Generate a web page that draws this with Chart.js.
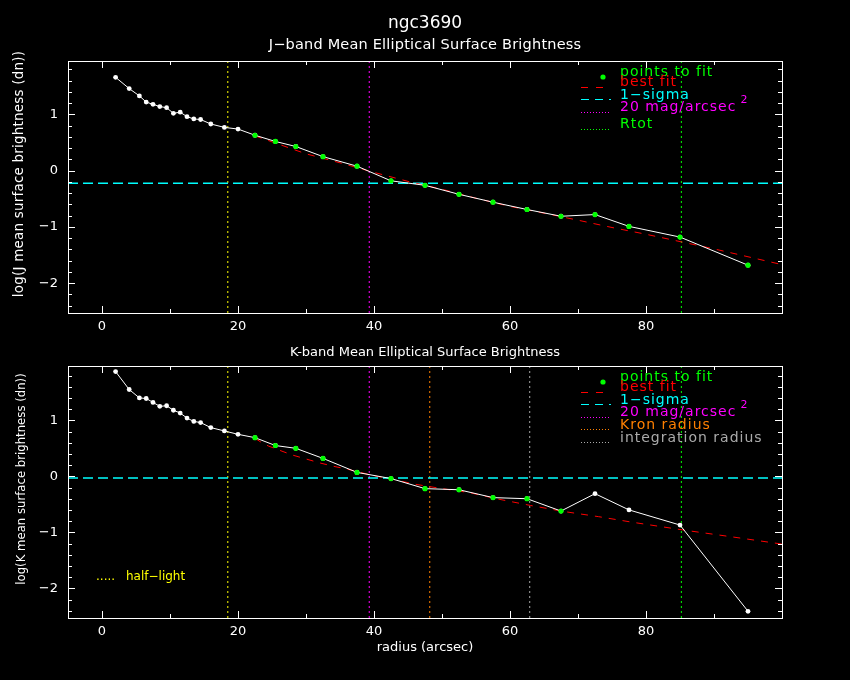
<!DOCTYPE html>
<html>
<head>
<meta charset="utf-8">
<script src="https://cdn.jsdelivr.net/npm/chart.js@4"></script>
<style>
  body { margin: 0; background: #000; }
  canvas { position: absolute; left: 0; display: block; }
</style>
</head>
<body>
<canvas id="jband" width="850" height="340" style="top:0"></canvas>
<canvas id="kband" width="850" height="340" style="top:340px"></canvas>
<script>
// radial profile, shared by both bands
const radius = [2, 4, 5.5, 6.5, 7.5, 8.5, 9.5, 10.5, 11.5, 12.5, 13.5, 14.5, 16, 18, 20,
  22.5, 25.5, 28.5, 32.5, 37.5, 42.5, 47.5, 52.5, 57.5, 62.5, 67.5, 72.5, 77.5, 85, 95];
const jBrightness = [1.66, 1.46, 1.33, 1.22, 1.18, 1.14, 1.12, 1.02, 1.04, 0.96, 0.92, 0.91, 0.83, 0.77, 0.74,
  0.63, 0.52, 0.43, 0.25, 0.08, -0.18, -0.26, -0.42, -0.56, -0.69, -0.81, -0.78, -0.99, -1.18, -1.68];
const kBrightness = [1.87, 1.55, 1.40, 1.39, 1.32, 1.25, 1.26, 1.18, 1.13, 1.04, 0.98, 0.96, 0.87, 0.81, 0.75,
  0.69, 0.55, 0.50, 0.32, 0.07, -0.04, -0.22, -0.24, -0.38, -0.40, -0.62, -0.31, -0.60, -0.87, -2.41];
// index range of the points used in the fit
const jFitRange = [15, 29];
const kFitRange = [15, 25];

// best fit curves
const jFitRadius = [22.5, 26, 30, 35, 40, 45, 50, 55, 60, 65, 70, 75, 80, 85, 90, 95, 100];
const jFitValue = [0.62, 0.47, 0.30, 0.14, -0.03, -0.19, -0.33, -0.49, -0.635, -0.755, -0.88, -1.01, -1.13, -1.26, -1.39, -1.53, -1.67];
const kFitRadius = [22.5, 23.5, 24.5, 26, 28, 30, 32, 34, 36, 38, 40, 43, 46, 50, 54, 58, 63, 68, 73, 78, 85, 92, 100];
const kFitValue = [0.68, 0.60, 0.54, 0.47, 0.38, 0.31, 0.24, 0.18, 0.13, 0.07, 0.01, -0.06, -0.14, -0.22, -0.29, -0.40, -0.52, -0.63, -0.72, -0.82, -0.95, -1.07, -1.21];

// reference levels and radii
const jSigma = -0.225;
const kSigma = -0.03;
const halfLight = 18.5;
const iso20 = 39.3;
const kronRadius = 48.2;
const integRadius = 62.9;
const rTot = 85.2;

const xTicks = [0, 20, 40, 60, 80];
const yTicks = [-2, -1, 0, 1];

const FONT = "'DejaVu Sans', sans-serif";
const XMIN = -5, XMAX = 100;

function pts(xs, ys) {
  return xs.map((x, i) => ({ x: x, y: ys[i] }));
}

function vline(x, color, ymin, ymax) {
  return {
    data: [{ x: x, y: ymin }, { x: x, y: ymax }],
    borderColor: color, borderWidth: 1, borderDash: [2, 3],
    pointRadius: 0, order: 6
  };
}

function hline(y, color) {
  return {
    data: [{ x: XMIN, y: y }, { x: XMAX, y: y }],
    borderColor: color, borderWidth: 1.5, borderDash: [10, 5],
    pointRadius: 0, order: 5
  };
}

// box with inward ticks on four sides
const frame = {
  id: 'frame',
  afterDatasetsDraw(chart) {
    const { ctx, chartArea: a, scales: { x, y } } = chart;
    ctx.save();
    ctx.strokeStyle = '#fff';
    ctx.lineWidth = 1;
    ctx.strokeRect(Math.round(a.left) + 0.5, Math.round(a.top) + 0.5, Math.round(a.width), Math.round(a.height));
    ctx.beginPath();
    for (let v = 0; v < XMAX; v += 10) {
      const px = Math.round(x.getPixelForValue(v)) + 0.5;
      const len = v % 20 === 0 ? 7 : 4;
      ctx.moveTo(px, a.bottom); ctx.lineTo(px, a.bottom - len);
      ctx.moveTo(px, a.top); ctx.lineTo(px, a.top + len);
    }
    for (let k = Math.ceil(y.min * 5); k <= Math.floor(y.max * 5); k++) {
      const py = Math.round(y.getPixelForValue(k / 5)) + 0.5;
      const len = k % 5 === 0 ? 7 : 4;
      ctx.moveTo(a.left, py); ctx.lineTo(a.left + len, py);
      ctx.moveTo(a.right, py); ctx.lineTo(a.right - len, py);
    }
    ctx.stroke();
    ctx.restore();
  }
};

function text(ctx, s, x, y, size, color, opts) {
  opts = opts || {};
  ctx.save();
  ctx.font = size + 'px ' + FONT;
  ctx.fillStyle = color;
  ctx.textAlign = opts.align || 'center';
  ctx.textBaseline = 'middle';
  if (opts.spacing) ctx.letterSpacing = opts.spacing;
  if (opts.rotate) {
    ctx.translate(x, y);
    ctx.rotate(-Math.PI / 2);
    ctx.fillText(s, 0, 0);
  } else {
    ctx.fillText(s, x, y);
  }
  ctx.restore();
}

function sample(ctx, y, color, dash) {
  ctx.save();
  ctx.strokeStyle = color;
  ctx.lineWidth = 1;
  ctx.setLineDash(dash);
  ctx.beginPath();
  ctx.moveTo(581, y + 0.5);
  ctx.lineTo(611, y + 0.5);
  ctx.stroke();
  ctx.restore();
}

function legendPlugin(items) {
  return {
    id: 'pgLegend',
    afterDraw(chart) {
      const ctx = chart.ctx;
      items.forEach(it => {
        if (it.dot) {
          ctx.save();
          ctx.fillStyle = it.color;
          ctx.beginPath();
          ctx.arc(603, it.dot, 2.6, 0, Math.PI * 2);
          ctx.fill();
          ctx.restore();
        }
        if (it.line !== undefined) sample(ctx, it.line, it.color, it.dash);
        text(ctx, it.label, 620, it.y, 14, it.color, { align: 'left', spacing: '1px' });
        if (it.sup) {
          ctx.save(); ctx.font = '14px ' + FONT; ctx.letterSpacing = '1px';
          const w = ctx.measureText(it.label).width;
          ctx.restore();
          text(ctx, '2', 620 + w + 4, it.y - 7, 11, it.color, { align: 'left' });
        }
      });
    }
  };
}

function labelsPlugin(list) {
  return {
    id: 'pgLabels',
    afterDraw(chart) {
      list.forEach(l => text(chart.ctx, l.s, l.x, l.y, l.size, l.color || '#fff', l));
    }
  };
}

function makePanel(id, cfg) {
  const fitPts = pts(radius, cfg.values).slice(cfg.fitRange[0], cfg.fitRange[1] + 1);
  const datasets = [
    {
      data: fitPts, showLine: false,
      pointRadius: 2.6, pointBackgroundColor: '#00ff00', pointBorderWidth: 0, order: 0
    },
    {
      data: pts(radius, cfg.values), borderColor: '#fff', borderWidth: 1,
      pointRadius: 2.4, pointBackgroundColor: '#fff', pointBorderWidth: 0, order: 1
    },
    {
      data: pts(cfg.fitRadius, cfg.fitValue), borderColor: '#ff0000', borderWidth: 1,
      borderDash: [7, 7], pointRadius: 0, order: 2
    },
    hline(cfg.sigma, '#00ffff')
  ].concat(cfg.vlines.map(v => vline(v[0], v[1], cfg.ymin, cfg.ymax)));

  return new Chart(document.getElementById(id), {
    type: 'line',
    data: { datasets: datasets },
    options: {
      responsive: false,
      animation: false,
      events: [],
      layout: { padding: { left: 38, right: 68, top: cfg.padTop, bottom: cfg.padBottom } },
      plugins: { legend: { display: false }, tooltip: { enabled: false } },
      scales: {
        x: {
          type: 'linear', min: XMIN, max: XMAX,
          grid: { display: false, drawTicks: false },
          border: { display: false },
          ticks: { color: '#fff', font: { family: FONT, size: 13 }, padding: 6, maxRotation: 0 },
          afterBuildTicks: s => { s.ticks = xTicks.map(v => ({ value: v })); },
          afterFit: s => { s.height = 27; }
        },
        y: {
          type: 'linear', min: cfg.ymin, max: cfg.ymax,
          grid: { display: false, drawTicks: false },
          border: { display: false },
          ticks: {
            color: '#fff', font: { family: FONT, size: 13 }, padding: 10,
            callback: v => String(v).replace('-', '\u2212')
          },
          afterBuildTicks: s => { s.ticks = yTicks.map(v => ({ value: v })); },
          afterFit: s => { s.width = 30; }
        }
      }
    },
    plugins: [frame, legendPlugin(cfg.legend), labelsPlugin(cfg.labels)]
  });
}

makePanel('jband', {
  values: jBrightness, fitRange: jFitRange,
  fitRadius: jFitRadius, fitValue: jFitValue,
  sigma: jSigma, ymin: -2.53, ymax: 1.95,
  padTop: 61, padBottom: 0,
  vlines: [[halfLight, '#ffff00'], [iso20, '#ff00ff'], [rTot, '#00ff00']],
  legend: [
    { label: 'points to fit', color: '#00ff00', y: 72, dot: 77 },
    { label: 'best fit', color: '#ff0000', y: 82, line: 87, dash: [7, 8] },
    { label: '1\u2212sigma', color: '#00ffff', y: 95, line: 99, dash: [8, 6] },
    { label: '20 mag/arcsec', color: '#ff00ff', y: 107, line: 112, dash: [1, 2], sup: true },
    { label: 'Rtot', color: '#00ff00', y: 124, line: 129, dash: [1, 2] }
  ],
  labels: [
    { s: 'ngc3690', x: 425, y: 24, size: 17 },
    { s: 'J\u2212band Mean Elliptical Surface Brightness', x: 425, y: 45.5, size: 14.5, spacing: '0.2px' },
    { s: 'log(J mean surface brightness (dn))', x: 19, y: 174, size: 13.5, rotate: true, spacing: '0.2px' }
  ]
});

makePanel('kband', {
  values: kBrightness, fitRange: kFitRange,
  fitRadius: kFitRadius, fitValue: kFitValue,
  sigma: kSigma, ymin: -2.53, ymax: 1.97,
  padTop: 26, padBottom: 35,
  vlines: [[halfLight, '#ffff00'], [iso20, '#ff00ff'], [kronRadius, '#ff8000'],
    [integRadius, '#aaaaaa'], [rTot, '#00ff00']],
  legend: [
    { label: 'points to fit', color: '#00ff00', y: 37, dot: 42 },
    { label: 'best fit', color: '#ff0000', y: 47, line: 52, dash: [7, 8] },
    { label: '1\u2212sigma', color: '#00ffff', y: 60, line: 64, dash: [8, 6] },
    { label: '20 mag/arcsec', color: '#ff00ff', y: 72, line: 77, dash: [1, 2], sup: true },
    { label: 'Kron radius', color: '#ff8000', y: 85, line: 89, dash: [1, 2] },
    { label: 'integration radius', color: '#aaaaaa', y: 98, line: 102, dash: [1, 2] }
  ],
  labels: [
    { s: 'K-band Mean Elliptical Surface Brightness', x: 425, y: 13, size: 13 },
    { s: 'radius (arcsec)', x: 425, y: 308, size: 13 },
    { s: 'log(K mean surface brightness (dn))', x: 22, y: 139, size: 11.7, rotate: true },
    { s: '.....', x: 96, y: 237, size: 12, color: '#ffff00', align: 'left' },
    { s: 'half\u2212light', x: 126, y: 237, size: 12, color: '#ffff00', align: 'left' }
  ]
});
</script>
</body>
</html>
